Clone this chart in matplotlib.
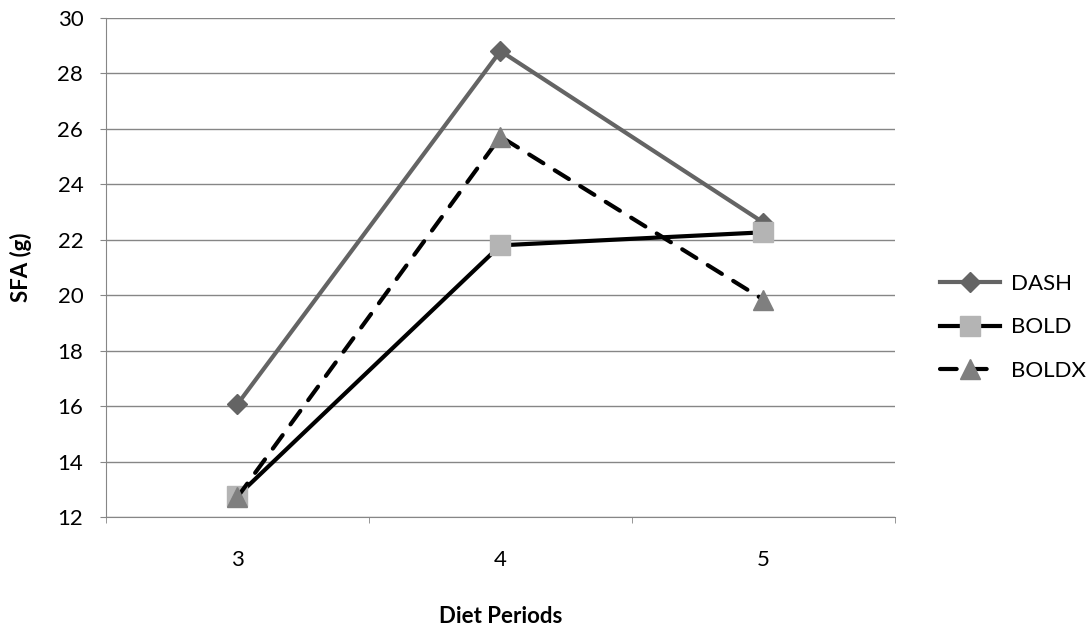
import numpy as np
import matplotlib.pyplot as plt

plt.rcParams['font.family'] = ['Lato', 'DejaVu Sans']

periods = ["3", "4", "5"]
dash = [16.07, 28.81, 22.62]
bold = [12.76, 21.8, 22.27]
boldx = [12.72, 25.72, 19.84]

fig = plt.figure(figsize=(10.9, 6.27), dpi=100)
ax = fig.add_axes([0.0972, 0.1754, 0.7239, 0.7959])

x = np.arange(len(periods))
ax.plot(x, dash, color='#646464', lw=3, marker='D', ms=10,
        mfc='#646464', mec='#646464', label='DASH', zorder=3)
ax.plot(x, bold, color='black', lw=3, marker='s', ms=14,
        mfc='#b4b4b4', mec='#b4b4b4', label='BOLD', zorder=4)
ax.plot(x, boldx, color='black', lw=3, dashes=[4, 3.2], dash_capstyle='round',
        marker='^', ms=14, mfc='#7f7f7f', mec='#7f7f7f', label='BOLDX', zorder=5)

ax.set_ylim(12, 30)
ax.set_yticks(np.arange(12, 31, 2))
ax.set_xlim(-0.5, 2.5)
ax.set_xticks(x)
ax.set_xticklabels(periods)
ax.set_xticks([-0.5, 0.5, 1.5, 2.5], minor=True)
ax.tick_params(axis='x', which='major', length=0, pad=24, labelsize=16)
ax.tick_params(axis='x', which='minor', length=4.3, color='#868686', direction='out')
ax.tick_params(axis='y', length=4.3, color='#868686', labelsize=16, pad=12)

ax.yaxis.grid(True, color='#868686', lw=1)
ax.set_axisbelow(True)
for s in ['top', 'right']:
    ax.spines[s].set_visible(False)
for s in ['left', 'bottom']:
    ax.spines[s].set_color('#868686')

ax.set_ylabel('SFA (g)', fontweight='bold', fontsize=16)
ax.set_xlabel('Diet Periods', fontweight='bold', fontsize=16)
ax.yaxis.set_label_coords(-0.094, 0.5)
ax.xaxis.set_label_coords(0.5, -0.178)

fig.legend(loc='center left', bbox_to_anchor=(0.862, 0.478), frameon=False,
           fontsize=16, handlelength=2.7, labelspacing=1.05, handletextpad=0.5,
           borderpad=0, borderaxespad=0)

fig.savefig('out.png', dpi=100)
